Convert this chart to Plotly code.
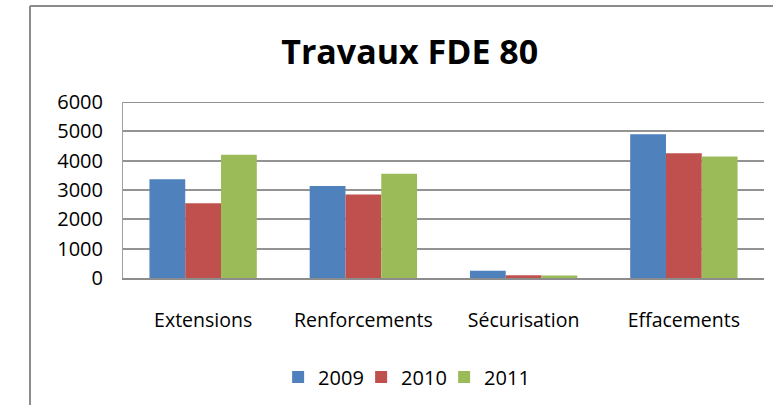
import plotly.graph_objects as go

categories = ["Extensions", "Renforcements", "Sécurisation", "Effacements"]
years = ["2009", "2010", "2011"]
values_2009 = [3370, 3140, 250, 4900]
values_2010 = [2550, 2850, 90, 4250]
values_2011 = [4200, 3550, 85, 4140]
y_ticks = [0, 1000, 2000, 3000, 4000, 5000, 6000]

colors = ["#4F81BD", "#C0504D", "#9BBB59"]
series = [values_2009, values_2010, values_2011]

fig = go.Figure()
for name, vals, col in zip(years, series, colors):
    fig.add_trace(go.Bar(x=categories, y=vals, name=name, marker_color=col,
                         marker_line_width=0))

FONT = "Open Sans, Noto Sans, sans-serif"

fig.update_layout(
    width=773, height=405,
    margin=dict(l=123, r=9, t=102, b=127),
    paper_bgcolor="white", plot_bgcolor="white",
    barmode="group", bargap=0.33, bargroupgap=0,
    font=dict(family=FONT, size=19, color="#000000"),
    title=dict(text="<b>Travaux FDE 80</b>", x=0.53, xanchor="center",
               y=1 - 52 / 405, yanchor="middle",
               font=dict(family=FONT, size=34, color="#000000")),
    legend=dict(orientation="h", x=0.242, xanchor="left", y=-0.5625,
                yanchor="middle", font=dict(size=20), itemwidth=30,
                entrywidth=38, traceorder="normal"),
    showlegend=True,
)

fig.update_xaxes(showgrid=False, showline=True, linecolor="#8c8c8c", linewidth=2,
                 ticks="", ticklabelstandoff=24, tickfont=dict(size=19.5))
fig.update_yaxes(range=[0, 6000], tickvals=y_ticks, showgrid=True,
                 gridcolor="#939393", gridwidth=2, zeroline=False,
                 showline=True, linecolor="#a0a0a0", linewidth=1,
                 ticks="", ticklabelstandoff=15, tickfont=dict(size=20))

# plotly skips the gridline sitting on the top edge, so draw it
fig.add_shape(type="line", xref="paper", yref="y", x0=0, x1=1,
              y0=y_ticks[-1], y1=y_ticks[-1],
              line=dict(color="#939393", width=2), layer="below")

# chart area border (Excel style), partly outside the visible window
fig.add_shape(type="line", xref="paper", yref="paper",
              x0=-0.1451, x1=-0.1451, y0=1.545, y1=-0.75,
              line=dict(color="#8c8c8c", width=2))
fig.add_shape(type="line", xref="paper", yref="paper",
              x0=-0.1451, x1=1.05, y0=1.545, y1=1.545,
              line=dict(color="#8c8c8c", width=2))

fig.write_html("out.html", config={"displayModeBar": False},
               post_script="document.body.style.margin='0px';")
